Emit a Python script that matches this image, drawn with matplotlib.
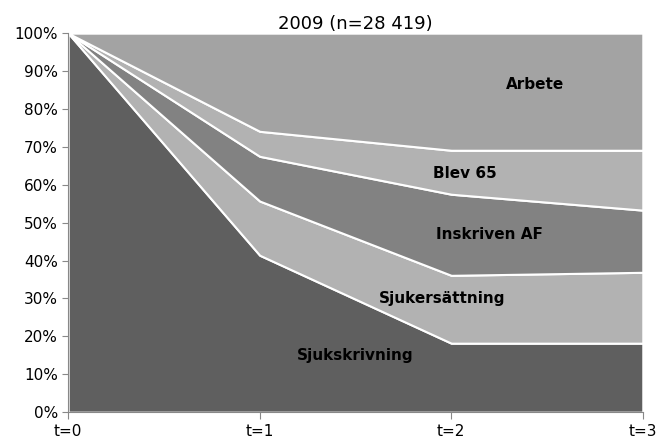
import matplotlib.pyplot as plt
import numpy as np

# DATA #
t_labels = ['t=0', 't=1', 't=2', 't=3']
sjukskrivning  = [100, 41.4, 18.2, 18.2]
sjukersattning = [0, 14.3, 17.9, 18.7]
inskriven_af   = [0, 11.8, 21.4, 16.4]
blev_65        = [0, 6.6, 11.6, 15.8]
arbete         = [0, 25.9, 30.9, 30.9]
series_names = ['Sjukskrivning', 'Sjukersättning', 'Inskriven AF', 'Blev 65', 'Arbete']
colors = ['#5f5f5f', '#b2b2b2', '#828282', '#b2b2b2', '#a3a3a3']

# PLOT #
fig = plt.figure(figsize=(6.62, 4.48), dpi=100)
ax = fig.add_axes([0.103, 0.080, 0.868, 0.846])
x = np.arange(len(t_labels))
ax.stackplot(x, sjukskrivning, sjukersattning, inskriven_af, blev_65, arbete,
             colors=colors, edgecolor='white', linewidth=1.5)

label_pos = [(1.5, 15), (1.95, 30), (2.2, 47), (2.07, 63), (2.44, 86.5)]
for name, (lx, ly) in zip(series_names, label_pos):
    ax.text(lx, ly, name, ha='center', va='center', fontsize=11, fontweight='bold', color='black')

ax.set_xlim(0, 3)
ax.set_ylim(0, 100)
ax.set_xticks(x)
ax.set_xticklabels(t_labels, fontsize=11)
ax.set_yticks(range(0, 101, 10))
ax.set_yticklabels([f'{v}%' for v in range(0, 101, 10)], fontsize=11)
ax.tick_params(axis='x', length=5, color='#888888', direction='out')
ax.tick_params(axis='y', length=4, color='#888888')
for side in ['top', 'right']:
    ax.spines[side].set_visible(False)
for side in ['left', 'bottom']:
    ax.spines[side].set_color('#888888')
ax.set_title('2009 (n=28 419)', fontsize=13, pad=3)

fig.savefig('out.png', dpi=100)
